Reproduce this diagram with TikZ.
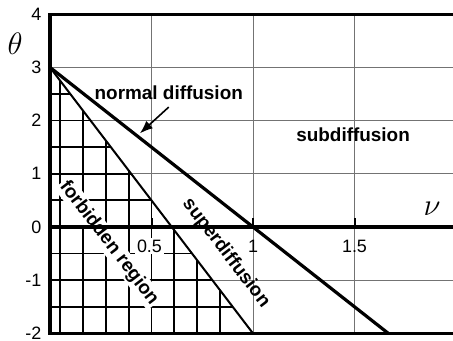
\documentclass[tikz,border=0pt]{standalone}
\usepackage{fontspec}
\setmainfont{Liberation Sans}
\usetikzlibrary{arrows.meta}
\begin{document}
\begin{tikzpicture}[x=203bp,y=53.2bp,>={Latex[length=13bp,width=10bp]},
  gridline/.style={black!55,line width=0.9bp},
  hatch/.style={line width=1.8bp},
  axisline/.style={line width=3.2bp},
  ticklabel/.style={font=\fontsize{18}{20}\selectfont,inner sep=0pt},
  region/.style={font=\fontsize{19}{21}\selectfont\bfseries,inner sep=0pt},
  mathlabel/.style={font=\fontsize{24.88}{28}\selectfont,inner sep=0pt,scale=1.25}]
  \useasboundingbox (-0.2463,-2.1429) rectangle (1.9852,4.2669);
  % Grid
  \foreach \x in {0.5,1,1.5} \draw[gridline] (\x,-2) -- (\x,4);
  \foreach \y in {-1,1,2,3} \draw[gridline] (0,\y) -- (1.9852,\y);
  % Forbidden region (hatched)
  \begin{scope}
    \clip (0,3) -- (1,-2) -- (0,-2) -- cycle;
    \foreach \y in {-1.5,-1,...,2.5} \draw[hatch] (0,\y) -- (1,\y);
    \foreach \k in {0,...,7} \draw[hatch] ({0.05+0.1125*\k},-2) -- ++(0,5);
  \end{scope}
  \node[region,rotate=-52.6,fill=white,inner sep=1.5bp] (forblabel) at (0.29,-0.30) {forbidden region};
  \node[ticklabel,fill=white,inner sep=2bp] (xa) at (0.49,-0.36) {0.5};
  \node[ticklabel] (xb) at (1,-0.36) {1};
  \node[ticklabel] (xc) at (1.5,-0.36) {1.5};
  % Axes
  \draw[axisline] (1.9852,4) -- (0,4) -- (0,-2) -- (1.9852,-2);
  \draw[axisline,line width=3.6bp] (0,0) -- (1.9852,0);
  \foreach \x in {0.5,1,1.5} \draw[line width=2bp] (\x,0) -- (\x,0.16);
  \foreach \y in {-2,...,4} \node[ticklabel,anchor=east] (y\y) at (-0.042,\y) {\y};
  \node[mathlabel] (thetalabel) at (-0.172,3.44) {$\theta$};
  \node[mathlabel] (nulabel) at (1.882,0.34) {$\nu$};
  % Boundary lines
  \coordinate (start) at (0,3);
  \coordinate (normend) at ({5/3},-2);
  \coordinate (superend) at (1,-2);
  \draw[line width=3.2bp] (start) -- (normend);
  \draw[line width=2bp] (start) -- (superend);
  % Region labels
  \node[region] (normlabel) at (0.585,2.52) {normal diffusion};
  \node[region] (sublabel) at (1.493,1.73) {subdiffusion};
  \node[region,rotate=-52.6] (superlabel) at (0.867,-0.49) {superdiffusion};
  \coordinate (arrtip) at (0.443,1.76);
  \draw[->,line width=1.6bp] ([yshift=-7bp]normlabel.south) -- (arrtip);
\end{tikzpicture}
\end{document}
